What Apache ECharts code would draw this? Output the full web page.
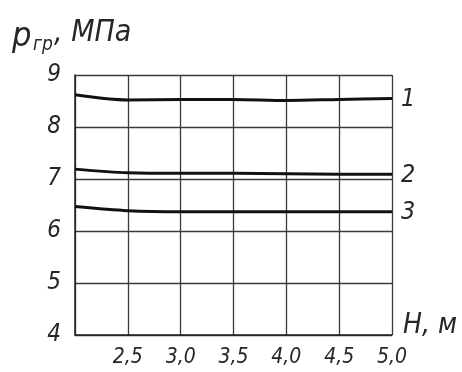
<!DOCTYPE html>
<html>
<head>
<meta charset="utf-8">
<script src="https://cdn.jsdelivr.net/npm/echarts@6/dist/echarts.min.js"></script>
<style>
  html, body { margin: 0; padding: 0; background: #fff; }
  #chart { width: 462px; height: 372px; }
</style>
</head>
<body>
<div id="chart"></div>
<script>
// Depth H, m
const depths = [2.0, 2.5, 3.0, 3.5, 4.0, 4.5, 5.0];
// Breakdown pressure p_гр, MPa, for the three cases
const curve1 = [8.62, 8.52, 8.53, 8.53, 8.51, 8.53, 8.55];
const curve2 = [7.19, 7.12, 7.11, 7.11, 7.10, 7.09, 7.09];
const curve3 = [6.47, 6.39, 6.37, 6.37, 6.37, 6.37, 6.37];
const curveNames = ['1', '2', '3'];

const FONT = '"DejaVu Sans Condensed", "DejaVu Sans", sans-serif';
const INK = '#111';
const LABEL_INK = '#262626';

function pairs(ys) { return depths.map((x, i) => [x, ys[i]]); }

function makeSeries(name, ys) {
  return {
    name: name,
    type: 'line',
    data: pairs(ys),
    smooth: 0.3,
    symbol: 'none',
    lineStyle: { color: INK, width: 3 },
    endLabel: {
      show: true,
      formatter: '{a}',
      fontFamily: FONT,
      fontStyle: 'italic',
      fontSize: 25,
      color: LABEL_INK,
      offset: [1, 1]
    },
    z: 5
  };
}

const chart = echarts.init(document.getElementById('chart'), null, { renderer: 'canvas' });
chart.setOption({
  animation: false,
  backgroundColor: '#fff',
  grid: { left: 75, top: 75, right: 70, bottom: 37, containLabel: false },
  xAxis: {
    type: 'value',
    min: 2.0, max: 5.0, interval: 0.5,
    axisLine: { show: true, lineStyle: { color: '#222', width: 1.5 } },
    axisTick: { show: false },
    splitLine: { show: true, lineStyle: { color: '#3a3a3a', width: 1.3 } },
    axisLabel: {
      showMinLabel: false,
      margin: 12,
      fontFamily: FONT, fontStyle: 'italic', fontSize: 21, color: LABEL_INK,
      formatter: v => v.toFixed(1).replace('.', ',')
    }
  },
  yAxis: {
    type: 'value',
    min: 4, max: 9, interval: 1,
    axisLine: { show: true, lineStyle: { color: '#222', width: 1.5 } },
    axisTick: { show: false },
    splitLine: { show: true, lineStyle: { color: '#3a3a3a', width: 1.3 } },
    axisLabel: {
      margin: 14,
      fontFamily: FONT, fontStyle: 'italic', fontSize: 24, color: LABEL_INK
    }
  },
  series: [
    makeSeries(curveNames[0], curve1),
    makeSeries(curveNames[1], curve2),
    makeSeries(curveNames[2], curve3)
  ],
  graphic: [
    { type: 'text', left: 12, top: 20,
      style: { text: 'p', font: 'italic 34px ' + FONT, fill: LABEL_INK } },
    { type: 'text', left: 33, top: 36,
      style: { text: 'гр', font: 'italic 19px ' + FONT, fill: LABEL_INK } },
    { type: 'text', left: 54, top: 18,
      style: { text: ', МПа', font: 'italic 30px ' + FONT, fill: LABEL_INK } },
    { type: 'text', left: 403, top: 312,
      style: { text: 'H, м', font: 'italic 28px ' + FONT, fill: LABEL_INK } }
  ]
});
</script>
</body>
</html>
